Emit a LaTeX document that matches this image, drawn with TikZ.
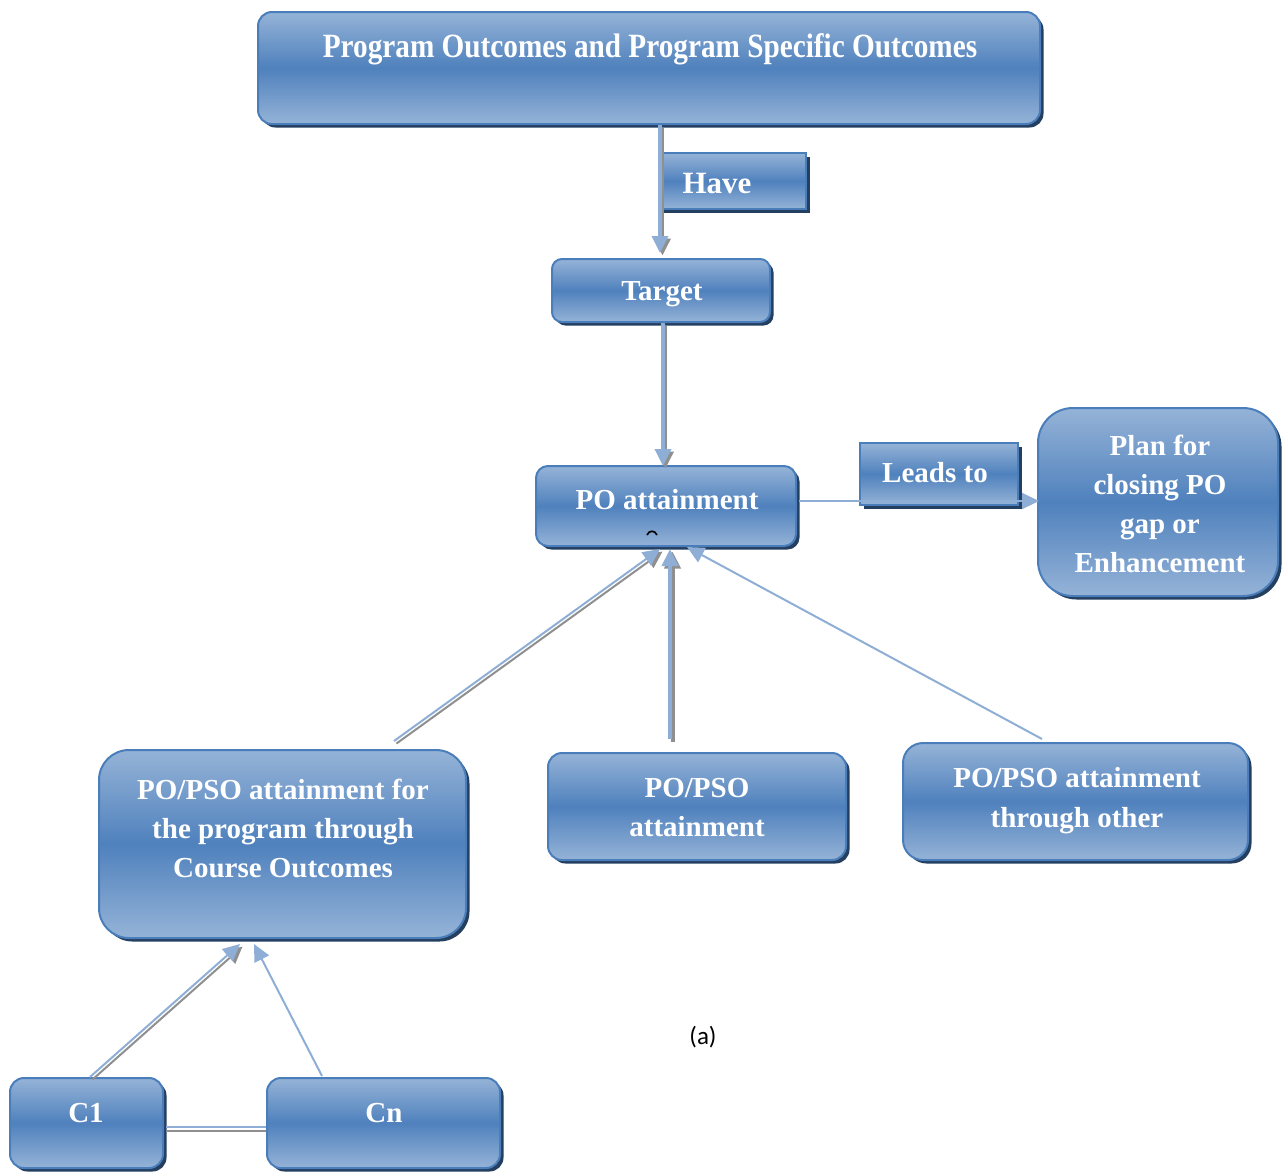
\documentclass[tikz,border=0pt]{standalone}
\usepackage{fontspec}
\usepackage{graphicx}
\setmainfont{Liberation Serif}
\newfontfamily\calib{Carlito}
\usetikzlibrary{shadows,arrows.meta,calc}
\definecolor{lblue}{HTML}{95B3D7}
\definecolor{mblue}{HTML}{4F81BD}
\definecolor{bblue}{HTML}{4A7EBB}
\definecolor{sblue}{HTML}{243F60}
\definecolor{agray}{HTML}{8F8F8F}
\definecolor{cblue}{HTML}{8EAED6}
\tikzset{
  box/.style={draw=bblue, line width=2pt, top color=lblue, bottom color=lblue,
    middle color=mblue, inner sep=0pt,
    general shadow={fill=sblue, shadow xshift=3.5pt, shadow yshift=-3.5pt}},
  txt/.style={text=white, font=\bfseries\fontsize{29}{39}\selectfont,
    align=center, inner sep=0pt, anchor=base},
  tip/.style={-{Triangle[length=17pt,width=16pt]}},
  conn/.style={draw=cblue, line width=#1, tip},
  conn/.default=2pt,
  shd/.style={draw=agray, line width=#1, tip,
    transform canvas={shift={(2.5pt,-2.5pt)}}},
  shd/.default=2pt,
}
\begin{document}
\begin{tikzpicture}[x=1pt,y=-1pt]
\useasboundingbox (0,0) rectangle (1282,1173);

% boxes
\node[box, rounded corners=14pt, minimum width=782pt, minimum height=112pt] (top) at (649,68) {};
\node[txt, font=\bfseries\fontsize{34}{40}\selectfont] (toptxt) at (650,57)
  {\scalebox{0.86}[1]{Program Outcomes and Program Specific Outcomes}};

\node[box, minimum width=218pt, minimum height=63pt, rounded corners=10pt] (target) at (661,290.5) {};
\node[txt] (targettxt) at (662,300) {Target};

\node[box, minimum width=260pt, minimum height=80pt, rounded corners=12pt] (po) at (666,506) {};
\node[txt] (potxt) at (667,509) {PO attainment};

\node[box, minimum width=240pt, minimum height=188pt, rounded corners=35pt] (plan) at (1158,502) {};
\node[txt] (plantxt) at (1160,572) {Plan for\\closing PO\\gap or\\Enhancement};

\node[box, minimum width=367pt, minimum height=188pt, rounded corners=30pt] (lb) at (282.5,844) {};
\node[txt] (lbtxt) at (283,877) {PO/PSO attainment for\\the program through\\Course Outcomes};

\node[box, minimum width=298pt, minimum height=107pt, rounded corners=14pt] (mb) at (697,806.5) {};
\node[txt] (mbtxt) at (697,836) {PO/PSO\\attainment};

\node[box, minimum width=345pt, minimum height=117pt, rounded corners=20pt] (rb) at (1075.5,801.5) {};
\node[txt, font=\bfseries\fontsize{29}{40}\selectfont] (rbtxt) at (1077,827) {PO/PSO attainment\\through other};

\node[box, minimum width=153pt, minimum height=90pt, rounded corners=14pt] (c1) at (86.5,1123) {};
\node[txt] (c1txt) at (86,1122) {C1};

\node[box, minimum width=233pt, minimum height=90pt, rounded corners=14pt] (cn) at (383.5,1123) {};
\node[txt] (cntxt) at (384,1122) {Cn};

% label boxes
\node[box, minimum width=146pt, minimum height=56pt] (have) at (733,181) {};
\node[txt, font=\bfseries\fontsize{31}{37}\selectfont] (havetxt) at (717,193) {Have};

\node[box, minimum width=158pt, minimum height=62pt] (leads) at (939,474) {};
\node[txt] (leadstxt) at (935,482) {Leads to};

% small mark
\draw[black, line width=1.6pt] ($(po.center)+(-19,29)$) .. controls ($(po.center)+(-17,24)$) and ($(po.center)+(-11,24)$) .. ($(po.center)+(-9,29)$);

% connectors
\coordinate (t1) at ($(target.north)+(-1,-5)$);
\draw[shd=3.5pt] (top.south -| t1) -- (t1);
\draw[conn=3.5pt] (top.south -| t1) -- (t1);

\coordinate (t2a) at ($(target.south)+(2,0)$);
\coordinate (t2b) at ($(po.north)+(-3,1)$);
\draw[shd=3.5pt] (t2a) -- (t2a |- t2b);
\draw[conn=3.5pt] (t2a) -- (t2a |- t2b);

\draw[conn=2pt] ($(po.east)+(2,-5)$) -- ($(plan.west)+(2,-1)$);

\draw[shd=2pt] ($(lb.north)+(111.5,-8)$) -- ($(po.south)+(-6,2)$);
\draw[conn=2pt] ($(lb.north)+(111.5,-8)$) -- ($(po.south)+(-6,2)$);

\draw[shd=4pt] ($(mb.north)+(-27,-13)$) -- ($(po.south)+(4,2)$);
\draw[conn=4pt] ($(mb.north)+(-27,-13)$) -- ($(po.south)+(4,2)$);

\draw[conn=2pt] ($(rb.north)+(-33.5,-3)$) -- ($(po.south)+(21,0)$);

\draw[shd=2pt] ($(c1.north)+(3.5,0)$) -- ($(lb.south)+(-42.5,5)$);
\draw[conn=2pt] ($(c1.north)+(3.5,0)$) -- ($(lb.south)+(-42.5,5)$);

\draw[conn=2pt] ($(cn.north)+(-61.5,-1)$) -- ($(lb.south)+(-28.5,5)$);

\draw[draw=agray, line width=2pt] ($(c1.east)+(2,8)$) -- ($(cn.west)+(0,8)$);
\draw[draw=cblue, line width=2pt] ($(c1.east)+(2,4)$) -- ($(cn.west)+(0,4)$);

% caption
\node[font=\calib\fontsize{25}{30}\selectfont, inner sep=0pt] (cap) at (703,1037) {(a)};
\end{tikzpicture}
\end{document}
